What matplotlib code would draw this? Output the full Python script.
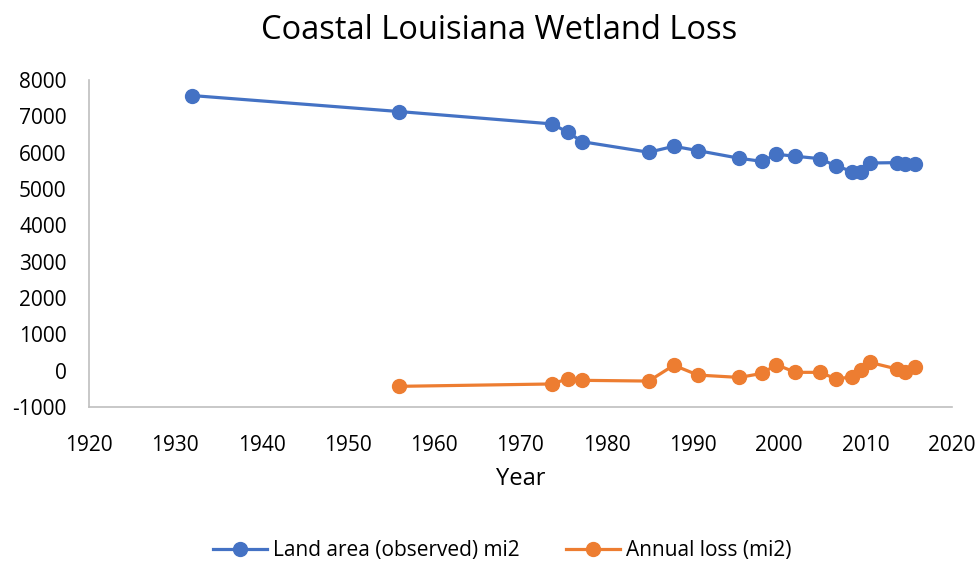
import numpy as np
import matplotlib.pyplot as plt

# land area (observed), mi2
land_years = [1932, 1956, 1973.7, 1975.5, 1977.2, 1984.9, 1987.8, 1990.6, 1995.4,
              1998.0, 1999.7, 2001.9, 2004.7, 2006.6, 2008.5, 2009.5, 2010.5,
              2013.7, 2014.6, 2015.7]
land_area = [7570, 7130, 6790, 6560, 6300, 6010, 6175, 6055, 5845,
             5760, 5955, 5900, 5835, 5635, 5480, 5470, 5715,
             5725, 5700, 5700]

# annual loss, mi2
loss_years = [1956, 1973.7, 1975.5, 1977.2, 1984.9, 1987.8, 1990.6, 1995.4,
              1998.0, 1999.7, 2001.9, 2004.7, 2006.6, 2008.5, 2009.5, 2010.5,
              2013.7, 2014.6, 2015.7]
annual_loss = [-430, -365, -220, -265, -285, 150, -120, -185,
               -75, 165, -45, -45, -220, -175, 10, 230,
               45, -35, 100]

plt.rcParams['font.family'] = ['Open Sans', 'DejaVu Sans']
plt.rcParams['axes.unicode_minus'] = False

fig = plt.figure(figsize=(9.77, 5.63), dpi=100)
ax = fig.add_axes([0.091, 0.277, 0.883, 0.581])

blue = '#4472c4'
orange = '#ed7d31'
ax.plot(land_years, land_area, color=blue, lw=2.3, marker='o', ms=10,
        label='Land area (observed) mi2')
ax.plot(loss_years, annual_loss, color=orange, lw=2.3, marker='o', ms=10,
        label='Annual loss (mi2)')

ax.set_xlim(1920, 2020)
ax.set_ylim(-1000, 8000)
ax.set_xticks(np.arange(1920, 2021, 10))
ax.set_yticks(np.arange(-1000, 8001, 1000))
ax.tick_params(axis='y', length=0, labelsize=15, pad=16)
ax.tick_params(axis='x', length=0, labelsize=15, pad=20)
for s in ['top', 'right']:
    ax.spines[s].set_visible(False)
for s in ['left', 'bottom']:
    ax.spines[s].set_color('#bfbfbf')
    ax.spines[s].set_linewidth(1.2)

ax.set_xlabel('Year', fontsize=17, labelpad=8)
fig.suptitle('Coastal Louisiana Wetland Loss', fontsize=23.5, x=0.511, y=0.975)
fig.legend(loc='lower center', bbox_to_anchor=(0.514, -0.03), ncol=2,
           frameon=False, fontsize=15, handlelength=2.6, handletextpad=0.3,
           columnspacing=2.2)

fig.savefig('out.png', dpi=100)
